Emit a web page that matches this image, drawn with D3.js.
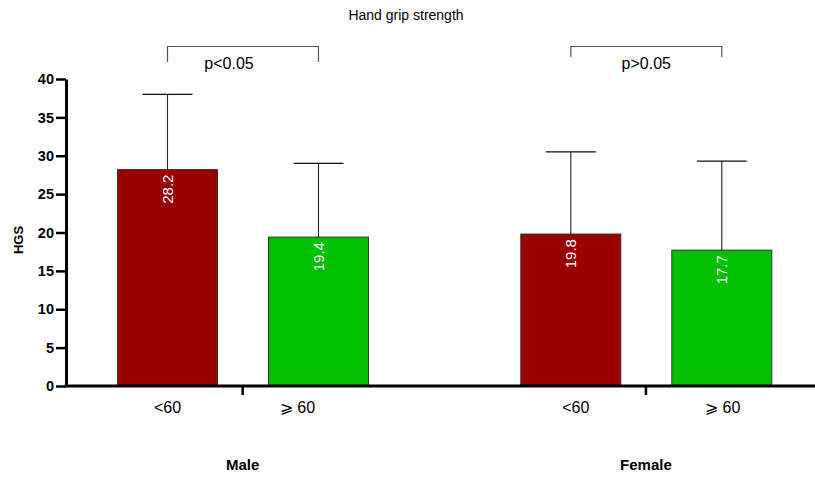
<!DOCTYPE html>
<html>
<head>
<meta charset="utf-8">
<script src="https://cdn.jsdelivr.net/npm/d3@7"></script>
<style>
  body { margin: 0; background: #fff; }
  svg { display: block; font-family: "Liberation Sans", Arial, sans-serif; }
</style>
</head>
<body>
<div id="chart"></div>
<script>
const groups = ["Male", "Female"];
const ages = ["<60", "\u2A7E 60"];
const means = [[28.2, 19.4], [19.8, 17.7]];
const errTops = [[38.0, 29.0], [30.5, 29.3]];
const pLabels = ["p<0.05", "p>0.05"];
const yTicks = [0, 5, 10, 15, 20, 25, 30, 35, 40];
const barColors = ["#9b0000", "#00c000"];
// small nudges of the category labels as placed in the original
const catNudge = [[0, -21], [5, 1]];

const W = 815, H = 477;
const svg = d3.select("#chart").append("svg")
  .attr("width", W).attr("height", H);

const y = d3.scaleLinear().domain([0, 40]).range([386, 79]);
const xGroup = d3.scaleBand().domain(groups).range([41, 847.6]).padding(0);
const xAge = d3.scaleBand().domain(ages).range([76.5, 327.5]).paddingInner(0.3377);

// title
svg.append("text")
  .attr("x", 406).attr("y", 20)
  .attr("text-anchor", "middle")
  .style("font-size", "14px")
  .text("Hand grip strength");

const g = svg.selectAll(".grp").data(groups).join("g")
  .attr("transform", d => `translate(${xGroup(d)},0)`);

g.each(function (grp, gi) {
  const sel = d3.select(this);
  const rows = ages.map((a, ai) => ({ a, ai, v: means[gi][ai], e: errTops[gi][ai] }));
  const bw = xAge.bandwidth();

  // error bars first, the bar covers the lower half
  sel.selectAll(".err").data(rows).join("line")
    .attr("x1", d => xAge(d.a) + bw / 2).attr("x2", d => xAge(d.a) + bw / 2)
    .attr("y1", d => y(d.v)).attr("y2", d => y(d.e))
    .attr("stroke", "#222").attr("stroke-width", 1.1);
  sel.selectAll(".cap").data(rows).join("line")
    .attr("x1", d => xAge(d.a) + bw / 4).attr("x2", d => xAge(d.a) + bw * 3 / 4)
    .attr("y1", d => y(d.e)).attr("y2", d => y(d.e))
    .attr("stroke", "#111").attr("stroke-width", 1.3);

  sel.selectAll(".bar").data(rows).join("rect")
    .attr("x", d => xAge(d.a))
    .attr("y", d => y(d.v))
    .attr("width", bw)
    .attr("height", d => y(0) - y(d.v))
    .attr("fill", d => barColors[d.ai])
    .attr("stroke", "#333").attr("stroke-width", 1);

  sel.selectAll(".val").data(rows).join("text")
    .attr("transform", d => `translate(${xAge(d.a) + bw / 2 + 5.5},${y(d.v) + 5}) rotate(-90)`)
    .attr("text-anchor", "end")
    .attr("fill", "#fff")
    .style("font-size", "15px")
    .text(d => d.v.toFixed(1));

  // category labels
  sel.selectAll(".cat").data(rows).join("text")
    .attr("x", d => xAge(d.a) + bw / 2 + catNudge[gi][d.ai])
    .attr("y", 413)
    .attr("text-anchor", "middle")
    .style("font-size", "16px")
    .text(d => d.a);

  // significance bracket
  const x1 = xAge(ages[0]) + bw / 2, x2 = xAge(ages[1]) + bw / 2;
  const bottom = gi === 0 ? 62 : 57;
  sel.append("path")
    .attr("d", `M${x1},${bottom}V46.5H${x2}V${bottom}`)
    .attr("fill", "none").attr("stroke", "#555").attr("stroke-width", 1.2);
  sel.append("text")
    .attr("x", gi === 0 ? (x1 + x2) / 2 - 14 : (x1 + x2) / 2)
    .attr("y", 69)
    .attr("text-anchor", "middle")
    .style("font-size", "16px")
    .text(pLabels[gi]);

  // group label
  sel.append("text")
    .attr("x", xGroup.bandwidth() / 2)
    .attr("y", 470)
    .attr("text-anchor", "middle")
    .style("font-size", "15px").style("font-weight", "bold")
    .text(grp);
});

// y axis
const yAxis = svg.append("g")
  .attr("transform", "translate(66,0)")
  .call(d3.axisLeft(y).tickValues(yTicks).tickSize(10).tickPadding(2).tickSizeOuter(0));
yAxis.select(".domain").attr("stroke", "#000").attr("stroke-width", 3);
yAxis.selectAll(".tick line").attr("stroke", "#000").attr("stroke-width", 2.5);
yAxis.selectAll(".tick text")
  .style("font-size", "14.5px").style("font-weight", "bold")
  .style("font-family", "'Liberation Sans', Arial, sans-serif").attr("fill", "#000");

svg.append("text")
  .attr("transform", "translate(23,240) rotate(-90)")
  .attr("text-anchor", "middle")
  .style("font-size", "13px").style("font-weight", "bold")
  .text("HGS");

// x axis line and group separators
svg.append("line")
  .attr("x1", 64.5).attr("x2", W).attr("y1", y(0)).attr("y2", y(0))
  .attr("stroke", "#000").attr("stroke-width", 3);
svg.selectAll(".gtick").data(groups).join("line")
  .attr("x1", d => xGroup(d) + xGroup.bandwidth() / 2)
  .attr("x2", d => xGroup(d) + xGroup.bandwidth() / 2)
  .attr("y1", y(0)).attr("y2", y(0) + 9)
  .attr("stroke", "#000").attr("stroke-width", 2.5);
</script>
</body>
</html>
